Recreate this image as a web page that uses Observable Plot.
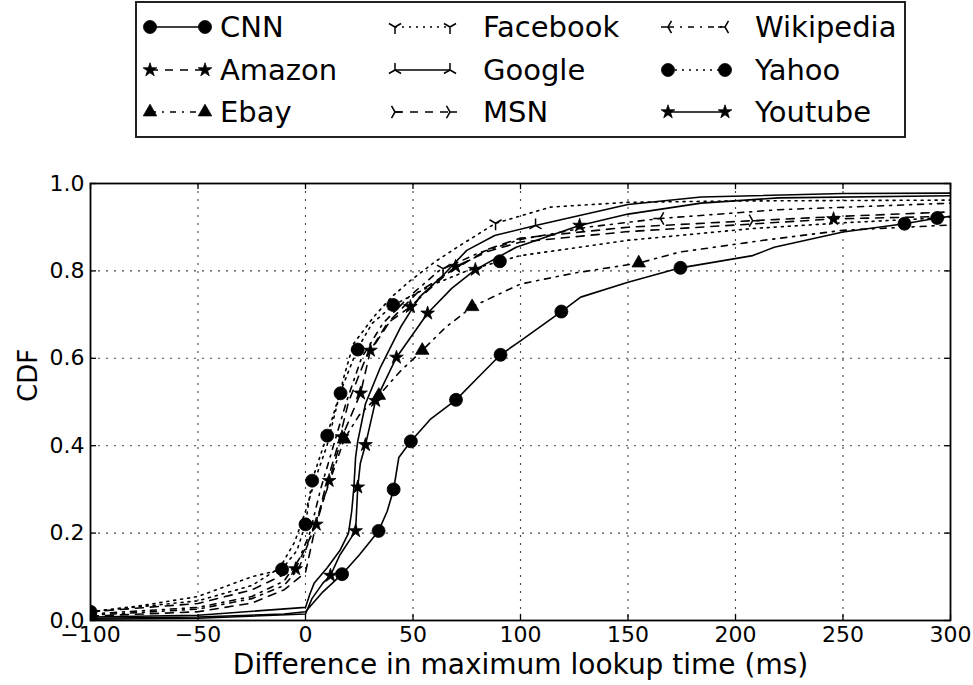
<!DOCTYPE html>
<html><head><meta charset="utf-8">
<script src="https://cdn.jsdelivr.net/npm/d3@7"></script>
<script src="https://cdn.jsdelivr.net/npm/@observablehq/plot@0.6"></script>
<style>
body{margin:0;background:#fff;font-family:"DejaVu Sans",sans-serif;}
#wrap{position:relative;width:973px;height:685px;overflow:hidden;}
#legend{position:absolute;left:135px;top:1px;}
#chart svg{display:block;}
</style></head><body>
<div id="wrap"><div id="chart"></div><svg id="legend"></svg></div>
<script>
// ---------- data ----------
const xTicks = [-100, -50, 0, 50, 100, 150, 200, 250, 300];
const yTicks = [0, 0.2, 0.4, 0.6, 0.8, 1.0];
const seriesNames = ["CNN", "Amazon", "Ebay", "Facebook", "Google", "MSN", "Wikipedia", "Yahoo", "Youtube"];
const xLabel = "Difference in maximum lookup time (ms)";
const yLabel = "CDF";

const cnnCurve = [[-100,0.005],[-50,0.008],[-10,0.015],[0,0.02],[8,0.065],[17,0.106],[25,0.15],[34,0.205],[38,0.25],[41,0.30],[43.4,0.373],[49,0.41],[58,0.46],[70,0.505],[80,0.555],[90.7,0.608],[100,0.64],[119,0.707],[128,0.74],[150,0.774],[174.4,0.807],[208,0.835],[218,0.854],[250,0.889],[278.6,0.908],[294,0.921],[300,0.925]];
const cnnMarks = [[-100,0.006],[17,0.106],[34,0.205],[41,0.30],[49,0.41],[70,0.505],[90.7,0.608],[119,0.707],[174.4,0.807],[278.6,0.908]];

const amazonCurve = [[-100,0.02],[-50,0.039],[-25,0.07],[-4.6,0.118],[5,0.22],[11,0.32],[17,0.42],[25.6,0.52],[30.2,0.618],[38,0.68],[48.8,0.718],[58,0.76],[69.8,0.81],[85,0.845],[100,0.866],[150,0.89],[200,0.905],[245.6,0.919],[300,0.925]];
const amazonMarks = [[-4.6,0.118],[5,0.22],[11,0.32],[17,0.42],[25.6,0.52],[30.2,0.618],[48.8,0.718],[69.8,0.81],[245.6,0.919]];

const ebayCurve = [[-100,0.012],[-50,0.026],[-25,0.05],[-10,0.08],[-3,0.12],[3,0.2],[10,0.3],[18,0.415],[25,0.47],[34.1,0.515],[44,0.57],[54.3,0.618],[65,0.67],[77.5,0.718],[100,0.77],[125,0.795],[155,0.818],[174,0.843],[213,0.87],[250,0.893],[300,0.905]];
const ebayMarks = [[18,0.415],[34.1,0.515],[54.3,0.618],[77.5,0.718],[155,0.818]];

const facebookCurve = [[-100,0.02],[-50,0.045],[-25,0.08],[-12,0.12],[-5,0.18],[0,0.25],[5,0.33],[10,0.4],[14,0.48],[18,0.56],[22.3,0.633],[31.6,0.694],[40,0.74],[48.8,0.778],[60,0.82],[70.5,0.854],[88.4,0.909],[114,0.946],[150,0.957],[200,0.96],[300,0.962]];
const facebookMarks = [[64,0.805],[88.4,0.909]];

const googleCurve = [[-100,0.008],[-50,0.012],[0,0.03],[2,0.06],[4,0.085],[10,0.12],[16,0.16],[20,0.2],[21.5,0.25],[22.5,0.305],[23.3,0.373],[24.3,0.41],[27.9,0.496],[34.9,0.58],[44.2,0.671],[53,0.74],[64,0.79],[75,0.847],[88,0.881],[107,0.904],[150,0.952],[184,0.969],[250,0.977],[300,0.978]];
const googleMarks = [[107,0.904]];

const msnCurve = [[-100,0.01],[-50,0.02],[-25,0.04],[-10,0.07],[0,0.11],[4,0.2],[9,0.3],[15,0.4],[20,0.5],[28,0.6],[40,0.69],[52,0.75],[68,0.8],[85,0.85],[100,0.875],[150,0.9],[208,0.915],[250,0.925],[300,0.935]];
const msnMarks = [[208,0.915]];

const wikipediaCurve = [[-100,0.015],[-50,0.03],[-25,0.055],[-10,0.09],[-3,0.14],[2,0.2],[7,0.3],[13,0.4],[19,0.5],[26,0.6],[36,0.68],[48,0.74],[62,0.8],[80,0.84],[100,0.872],[115,0.885],[131,0.9],[165,0.92],[220,0.94],[300,0.955]];
const wikipediaMarks = [[165,0.92]];

const yahooCurve = [[-100,0.02],[-75,0.035],[-50,0.055],[-25,0.1],[-11,0.117],[-4,0.16],[0,0.22],[3,0.32],[10,0.423],[16,0.52],[24,0.62],[31,0.68],[41,0.722],[60,0.77],[75,0.80],[90.4,0.822],[100,0.835],[150,0.87],[208,0.897],[250,0.91],[294,0.921],[300,0.923]];
const yahooMarks = [[-100,0.02],[-10.9,0.117],[0,0.22],[3.1,0.32],[10.1,0.423],[16.3,0.52],[24.3,0.62],[40.8,0.722],[90.4,0.822],[293.8,0.921]];

const youtubeCurve = [[-100,0.003],[-50,0.005],[0,0.015],[3,0.05],[8,0.085],[11.6,0.103],[16,0.15],[20,0.18],[23.3,0.205],[24.3,0.305],[25.5,0.36],[27.9,0.402],[32.6,0.503],[42.3,0.602],[56.8,0.703],[68,0.76],[79,0.803],[98,0.854],[127.5,0.904],[150,0.93],[184,0.955],[220,0.967],[300,0.972]];
const youtubeMarks = [[11.6,0.103],[23.3,0.205],[24.3,0.305],[27.9,0.402],[32.6,0.503],[42.3,0.602],[56.8,0.703],[79,0.803],[127.5,0.904]];

const curves = {CNN: cnnCurve, Amazon: amazonCurve, Ebay: ebayCurve, Facebook: facebookCurve, Google: googleCurve, MSN: msnCurve, Wikipedia: wikipediaCurve, Yahoo: yahooCurve, Youtube: youtubeCurve};
const marks = {CNN: cnnMarks, Amazon: amazonMarks, Ebay: ebayMarks, Facebook: facebookMarks, Google: googleMarks, MSN: msnMarks, Wikipedia: wikipediaMarks, Yahoo: yahooMarks, Youtube: youtubeMarks};

// ---------- styles ----------
const tri = (angles) => ({draw(ctx, size) {
  const r = Math.sqrt(size / Math.PI);
  for (const a of angles) { ctx.moveTo(0, 0); ctx.lineTo(r * Math.cos(a), r * Math.sin(a)); }
}});
const P = Math.PI;
const triDown = tri([P/2, 7*P/6, -P/6]);
const triUp = tri([-P/2, P/6, 5*P/6]);
const triLeft = tri([P, -P/3, P/3]);
const triRight = tri([0, 2*P/3, -2*P/3]);

const DASHED = "8,7", DASHDOT = "6,6,2,6", DOTTED = "2,5";
const styles = {
  CNN:       {dash: null,    symbol: "circle",   r: 6.5, filled: true},
  Amazon:    {dash: DASHED,  symbol: "star",     r: 4.3, filled: true},
  Ebay:      {dash: DASHDOT, symbol: "triangle", r: 5,   filled: true},
  Facebook:  {dash: DOTTED,  symbol: triDown,    r: 7,   filled: false},
  Google:    {dash: null,    symbol: triUp,      r: 7,   filled: false},
  MSN:       {dash: DASHED,  symbol: triRight,   r: 7,   filled: false},
  Wikipedia: {dash: DASHDOT, symbol: triLeft,    r: 7,   filled: false},
  Yahoo:     {dash: DOTTED,  symbol: "circle",   r: 6.5, filled: true},
  Youtube:   {dash: null,    symbol: "star",     r: 4.3, filled: true}
};

const FONT = "DejaVu Sans";
const minus = d => d < 0 ? "\u2212" + Math.abs(d) : String(d);

const lineMarks = [];
const dotMarks = [];
for (const name of seriesNames) {
  const s = styles[name];
  lineMarks.push(Plot.line(curves[name], {x: d => d[0], y: d => d[1], stroke: "black", strokeWidth: 1.6, strokeDasharray: s.dash, clip: true}));
  dotMarks.push(Plot.dot(marks[name], {x: d => d[0], y: d => d[1], r: s.r, symbol: s.symbol,
    fill: s.filled ? "black" : "none", stroke: "black", strokeWidth: s.filled ? 0.8 : 1.5, clip: true}));
}

const gridX = xTicks.slice(1, -1);
const gridY = yTicks.slice(1, -1);

const chart = Plot.plot({
  width: 973, height: 685,
  marginLeft: 90, marginRight: 23, marginTop: 183, marginBottom: 65,
  style: {fontFamily: FONT, background: "white", color: "black"},
  x: {domain: [-100, 300]},
  y: {domain: [0, 1]},
  marks: [
    Plot.ruleX(gridX, {stroke: "#444", strokeWidth: 1.1, strokeDasharray: "2,6"}),
    Plot.ruleY(gridY, {stroke: "#444", strokeWidth: 1.1, strokeDasharray: "2,6"}),
    ...lineMarks,
    ...dotMarks,
    Plot.ruleX(xTicks, {y1: 0, y2: 0.014, stroke: "black", strokeWidth: 1.3}),
    Plot.ruleX(xTicks, {y1: 1, y2: 0.986, stroke: "black", strokeWidth: 1.3}),
    Plot.ruleY(yTicks, {x1: -100, x2: -97.2, stroke: "black", strokeWidth: 1.3}),
    Plot.ruleY(yTicks, {x1: 300, x2: 297.2, stroke: "black", strokeWidth: 1.3}),
    Plot.frame({stroke: "black", strokeWidth: 1.8}),
    Plot.axisX(xTicks, {tickSize: 0, tickPadding: 6, fontSize: 22, tickFormat: minus, label: null}),
    Plot.axisY(yTicks, {tickSize: 0, tickPadding: 6, fontSize: 22, tickFormat: d3.format(".1f"), label: null}),
    Plot.text([xLabel], {frameAnchor: "bottom", dy: 53, text: d => d, fontSize: 28, fill: "black"}),
    Plot.text([yLabel], {frameAnchor: "left", dx: -62, rotate: -90, text: d => d, fontSize: 26, fill: "black"})
  ]
});
document.getElementById("chart").appendChild(chart);

// ---------- legend ----------
const lg = d3.select("#legend").attr("width", 772).attr("height", 138);
lg.append("rect").attr("x", 1).attr("y", 1).attr("width", 769).attr("height", 135)
  .attr("fill", "white").attr("stroke", "#222").attr("stroke-width", 2);
const cols = [{x1: 15, x2: 70, tx: 85}, {x1: 260, x2: 315, tx: 348}, {x1: 533, x2: 590, tx: 620}];
const rows = [26, 69, 111];
seriesNames.forEach((name, i) => {
  const c = cols[Math.floor(i / 3)], y = rows[i % 3], s = styles[name];
  const g = lg.append("g");
  g.append("line").attr("x1", c.x1).attr("x2", c.x2).attr("y1", y).attr("y2", y)
    .attr("stroke", "black").attr("stroke-width", 1.6).attr("stroke-dasharray", s.dash);
  const type = typeof s.symbol === "string"
    ? ({circle: d3.symbolCircle, star: d3.symbolStar, triangle: d3.symbolTriangle})[s.symbol]
    : s.symbol;
  const path = d3.symbol().type(type).size(Math.PI * s.r * s.r)();
  for (const x of [c.x1, c.x2]) {
    g.append("path").attr("d", path).attr("transform", `translate(${x},${y})`)
      .attr("fill", s.filled ? "black" : "none").attr("stroke", "black")
      .attr("stroke-width", s.filled ? 0.8 : 1.5);
  }
  g.append("text").attr("x", c.tx).attr("y", y).attr("dy", "0.36em")
    .attr("font-family", FONT).attr("font-size", 29).attr("fill", "black").text(name);
});
</script>
</body></html>
